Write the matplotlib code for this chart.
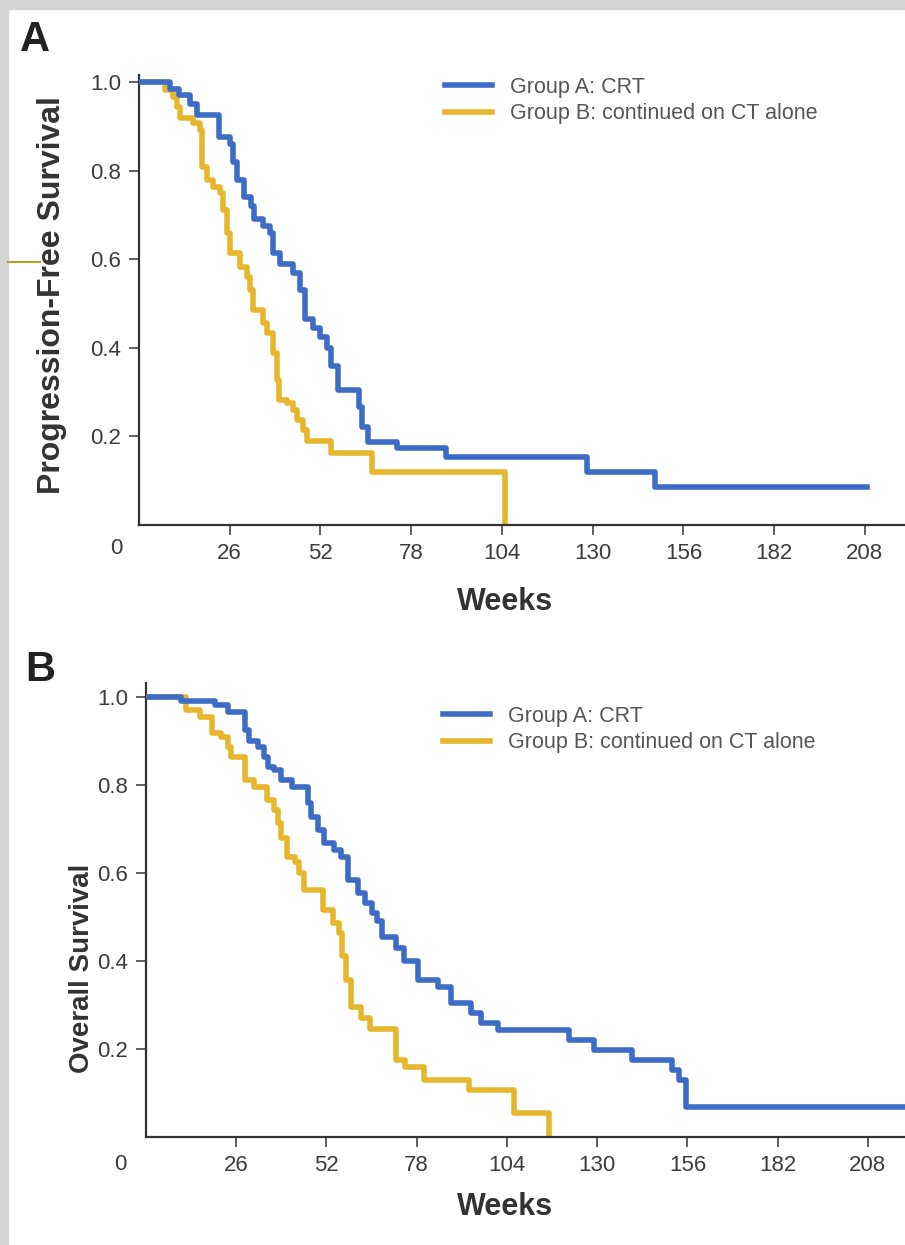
import matplotlib
matplotlib.use('Agg')
import matplotlib.pyplot as plt
from matplotlib.patches import Rectangle
from matplotlib.lines import Line2D

plt.rcParams['font.family'] = ['Liberation Sans', 'DejaVu Sans']

# Kaplan-Meier steps (weeks, survival after the step)
pfs_a_weeks = [0, 9, 11.5, 14.5, 16.5, 23, 26, 27, 28, 30, 32, 33, 35.5, 37.5, 38.5,
               40.5, 44, 46, 47.5, 50, 52, 54, 55, 57, 63, 64, 65.5, 74, 88, 128.5, 148, 208.5]
pfs_a_surv = [1.0, 0.985, 0.97, 0.95, 0.925, 0.877, 0.86, 0.82, 0.78, 0.74, 0.72, 0.69, 0.675, 0.66, 0.615,
              0.59, 0.57, 0.53, 0.465, 0.445, 0.425, 0.40, 0.36, 0.305, 0.266, 0.221, 0.187, 0.174, 0.154, 0.12, 0.085, 0.085]

pfs_b_weeks = [0, 7.5, 9.7, 10.9, 11.7, 15.5, 17.5, 18, 19.5, 21.2, 23.2, 24, 25.2, 26.1, 29, 31,
               31.8, 32.7, 35.5, 36.7, 38.4, 39.5, 40, 42.4, 44.1, 45.3, 47, 48.1, 55, 66.8, 105]
pfs_b_surv = [1.0, 0.982, 0.966, 0.943, 0.919, 0.907, 0.892, 0.808, 0.779, 0.763, 0.749, 0.711, 0.659, 0.614, 0.582, 0.56,
              0.53, 0.485, 0.456, 0.433, 0.388, 0.327, 0.282, 0.275, 0.26, 0.237, 0.214, 0.19, 0.163, 0.12, 0.0]

os_a_weeks = [0, 10, 20, 23.5, 28.5, 29.7, 32.3, 34, 35.2, 37, 39, 42, 46.7, 47.5, 49.6, 51.3, 54.2, 56.2,
              58.2, 61, 63, 65, 66.5, 68, 72, 74.4, 78.4, 84, 88, 93.7, 96.5, 101.4, 122, 129, 140,
              151.5, 153.5, 155.5, 220]
os_a_surv = [1.0, 0.989, 0.98, 0.965, 0.924, 0.90, 0.886, 0.863, 0.84, 0.833, 0.81, 0.795, 0.758, 0.727, 0.697, 0.667, 0.652, 0.636,
             0.583, 0.554, 0.531, 0.509, 0.49, 0.455, 0.43, 0.40, 0.356, 0.34, 0.304, 0.281, 0.259, 0.243, 0.22, 0.197, 0.175,
             0.152, 0.13, 0.068, 0.068]

os_b_weeks = [0, 11.5, 15.5, 19, 21.5, 23.5, 24.5, 28.5, 31, 35, 37, 38, 39, 40.5, 43, 44, 45.5, 51,
              54, 55.5, 56.5, 57.5, 59, 62, 64.5, 72, 74.5, 80, 93, 106, 116]
os_b_surv = [1.0, 0.97, 0.953, 0.917, 0.908, 0.885, 0.863, 0.81, 0.795, 0.765, 0.742, 0.713, 0.68, 0.636, 0.624, 0.60, 0.56, 0.515,
             0.486, 0.463, 0.41, 0.356, 0.295, 0.27, 0.245, 0.175, 0.16, 0.13, 0.107, 0.054, 0.0]

week_ticks = [26, 52, 78, 104, 130, 156, 182, 208]
surv_ticks = [0.2, 0.4, 0.6, 0.8, 1.0]
labels = ['Group A: CRT', 'Group B: continued on CT alone']

BLUE = '#3c6cc6'
GOLD = '#e6b62c'
TXT = '#3c3c3c'

W, H = 905, 1245
fig = plt.figure(figsize=(W / 100, H / 100), dpi=100)
fig.patch.set_facecolor('white')

# grey frame of the slide
fig.add_artist(Rectangle((0, 0), 8 / W, 1, transform=fig.transFigure, color='#d4d4d4', zorder=0))
fig.add_artist(Rectangle((0, 1 - 9 / H), 1, 9 / H, transform=fig.transFigure, color='#d4d4d4', zorder=0))
fig.add_artist(Line2D([8 / W, 40 / W], [1 - 262 / H] * 2, transform=fig.transFigure, color='#b3a122', lw=1.5))


def panel(rect, xmax, ymax, blue, gold, ylabel, ylab_pos, ylab_size, letter, letter_pos, zero_pos, weeks_pos, leg_anchor):
    ax = fig.add_axes(rect)
    ax.step(blue[0], blue[1], where='post', color=BLUE, lw=4, label=labels[0], zorder=3)
    ax.step(gold[0], gold[1], where='post', color=GOLD, lw=4, label=labels[1], zorder=2)
    ax.set_xlim(0, xmax)
    ax.set_ylim(0, ymax)
    ax.set_xticks(week_ticks)
    ax.set_yticks(surv_ticks)
    ax.set_yticklabels(['%.1f' % v for v in surv_ticks])
    for s in ['top', 'right']:
        ax.spines[s].set_visible(False)
    for s in ['left', 'bottom']:
        ax.spines[s].set_linewidth(1.6)
        ax.spines[s].set_color('#333333')
    ax.tick_params(direction='out', length=7, width=1.2, color='#444444',
                   labelsize=16, labelcolor=TXT, pad=6)
    ax.patch.set_alpha(0)
    fig.text(zero_pos[0] / W, 1 - zero_pos[1] / H, '0', fontsize=16, color=TXT, ha='center', va='center')
    fig.text(weeks_pos[0] / W, 1 - weeks_pos[1] / H, 'Weeks', fontsize=22, fontweight='bold',
             color='#333333', ha='center', va='center')
    fig.text(ylab_pos[0] / W, 1 - ylab_pos[1] / H, ylabel, fontsize=ylab_size, fontweight='bold',
             color='#333333', rotation=90, ha='center', va='center')
    fig.text(letter_pos[0] / W, 1 - letter_pos[1] / H, letter, fontsize=30, fontweight='bold',
             color='#222222', ha='center', va='center')
    ax.legend(loc='upper left', bbox_to_anchor=(leg_anchor[0] / W, 1 - leg_anchor[1] / H),
              bbox_transform=fig.transFigure, frameon=False, fontsize=15.5, handlelength=2.2,
              handletextpad=0.8, labelspacing=0.25, borderpad=0, borderaxespad=0,
              labelcolor='#555555')
    return ax


panel([139 / W, 1 - 525 / H, 1 - 139 / W, (525 - 75) / H], 219.5, 1.016,
      (pfs_a_weeks, pfs_a_surv), (pfs_b_weeks, pfs_b_surv),
      'Progression-Free Survival', (52, 295), 23, 'A', (35, 40), (116, 548), (505, 602), (445, 77))

panel([146 / W, 1 - 1137 / H, 1 - 146 / W, (1137 - 683) / H], 218.7, 1.031,
      (os_a_weeks, os_a_surv), (os_b_weeks, os_b_surv),
      'Overall Survival', (82, 968), 20, 'B', (40, 670), (120, 1165), (505, 1207), (443, 706))

fig.savefig('out.png', dpi=100)
